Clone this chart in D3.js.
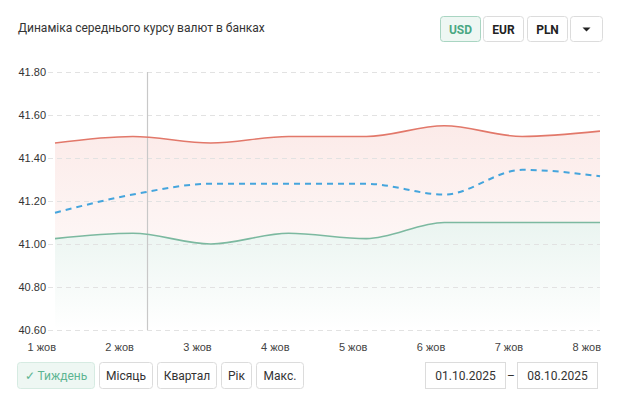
<!DOCTYPE html>
<html><head><meta charset="utf-8">
<script src="https://cdn.jsdelivr.net/npm/d3@7"></script>
<style>
body{margin:0;background:#fff;font-family:Roboto,Arial,sans-serif;}
svg{display:block}
</style></head>
<body><svg id="c" width="620" height="398"></svg>
<script>
const categories = ["1 жов","2 жов","3 жов","4 жов","5 жов","6 жов","7 жов","8 жов"];
const sellValues = [41.47,41.50,41.47,41.50,41.50,41.55,41.50,41.525];
const avgValues  = [41.145,41.23,41.28,41.28,41.28,41.23,41.345,41.315];
const buyValues  = [41.025,41.05,41.00,41.05,41.025,41.10,41.10,41.10];
const yTicks = [40.60,40.80,41.00,41.20,41.40,41.60,41.80];
const currencies = ["USD","EUR","PLN"];
const periods = ["✓ Тиждень","Місяць","Квартал","Рік","Макс."];
const dateFrom = "01.10.2025", dateTo = "08.10.2025";
const title = "Динаміка середнього курсу валют в банках";

const svg = d3.select("#c");
const x = d3.scalePoint().domain(categories).range([55,600]);
const y = d3.scaleLinear().domain([40.60,41.80]).range([330,72]);

const defs = svg.append("defs");
function grad(id,color,op,op2){
  const g = defs.append("linearGradient").attr("id",id).attr("gradientUnits","userSpaceOnUse")
    .attr("x1",0).attr("x2",0).attr("y1",y(41.55)).attr("y2",330);
  g.append("stop").attr("offset","0%").attr("stop-color",color).attr("stop-opacity",op);
  g.append("stop").attr("offset","100%").attr("stop-color",color).attr("stop-opacity",op2);
}
grad("gRed","#e8776a",0.15,0.0);
const gg = defs.append("linearGradient").attr("id","gGreen").attr("gradientUnits","userSpaceOnUse")
  .attr("x1",0).attr("x2",0).attr("y1",y(41.10)).attr("y2",330);
gg.append("stop").attr("offset","0%").attr("stop-color","#5fae8e").attr("stop-opacity",0.13);
gg.append("stop").attr("offset","100%").attr("stop-color","#5fae8e").attr("stop-opacity",0.0);

// title
svg.append("text").attr("x",18).attr("y",32).attr("font-size",12).attr("fill","#333").text(title);

// currency buttons
const cb = [[440,40],[483,40],[527,40]];
currencies.forEach((c,i)=>{
  const g = svg.append("g");
  const active = i===0;
  g.append("rect").attr("x",cb[i][0]+0.5).attr("y",16.5).attr("width",cb[i][1]).attr("height",25).attr("rx",3)
   .attr("fill",active?"#eef7f3":"#fff").attr("stroke",active?"#a9d5c2":"#dcdcdc");
  g.append("text").attr("x",cb[i][0]+cb[i][1]/2+0.5).attr("y",33.5).attr("text-anchor","middle")
   .attr("font-size",12).attr("font-weight","bold").attr("fill",active?"#4aa883":"#222").text(c);
});
svg.append("rect").attr("x",570.5).attr("y",16.5).attr("width",32).attr("height",25).attr("rx",3).attr("fill","#fff").attr("stroke","#dcdcdc");
svg.append("path").attr("d","M582.5,27.5 L590.5,27.5 L586.5,31.5 Z").attr("fill","#222");

const curve = d3.curveMonotoneX;
const xi = (d,i)=>x(categories[i]);
// red band between sell line and buy line, green area below buy line
const band = d3.area().x(xi).y1((d,i)=>y(sellValues[i])).y0((d,i)=>y(buyValues[i])).curve(curve);
const greenArea = d3.area().x(xi).y0(330).y1(d=>y(d)).curve(curve);
const line = d3.line().x(xi).y(d=>y(d)).curve(curve);

svg.append("path").attr("d",band(sellValues)).attr("fill","url(#gRed)");
svg.append("path").attr("d",greenArea(buyValues)).attr("fill","url(#gGreen)");

// grid
const gridG = svg.append("g");
yTicks.forEach(t=>{
  gridG.append("line").attr("x1",48).attr("x2",600).attr("y1",y(t)+0.5).attr("y2",y(t)+0.5)
    .attr("stroke","#e2e2e2").attr("stroke-dasharray","5,4");
  gridG.append("text").attr("x",46).attr("y",y(t)+4).attr("text-anchor","end").attr("font-size",11)
    .attr("font-family","'Liberation Sans',Arial,sans-serif").attr("fill","#333").text(t.toFixed(2));
});

// x labels
categories.forEach(c=>{
  svg.append("text").attr("x",x(c)+1).attr("y",351).attr("text-anchor","end").attr("font-size",11)
    .attr("font-family","'Liberation Sans',Arial,sans-serif").attr("fill","#444").text(c);
});

// crosshair
svg.append("line").attr("x1",147.5).attr("x2",147.5).attr("y1",72).attr("y2",330).attr("stroke","#c8c8c8").attr("stroke-width",1.2);

svg.append("path").attr("d",line(sellValues)).attr("fill","none").attr("stroke","#e2786a").attr("stroke-width",1.6);
svg.append("path").attr("d",line(buyValues)).attr("fill","none").attr("stroke","#7cb9a0").attr("stroke-width",1.6);
svg.append("path").attr("d",line(avgValues)).attr("fill","none").attr("stroke","#45a5dd").attr("stroke-width",2).attr("stroke-dasharray","6,5");

// period buttons
const pb = [[17,77],[99,53],[157,59],[221,30],[256,47]];
periods.forEach((p,i)=>{
  const active = i===0;
  svg.append("rect").attr("x",pb[i][0]+0.5).attr("y",362.5).attr("width",pb[i][1]).attr("height",26).attr("rx",3)
    .attr("fill",active?"#eef7f3":"#fff").attr("stroke",active?"#d6ebe2":"#dcdcdc");
  svg.append("text").attr("x",pb[i][0]+pb[i][1]/2+0.5).attr("y",380).attr("text-anchor","middle").attr("font-size",12)
    .attr("fill",active?"#5db592":"#333").text(p);
});

// dates
[[425,80,dateFrom],[517,80,dateTo]].forEach(d=>{
  svg.append("rect").attr("x",d[0]+0.5).attr("y",362.5).attr("width",d[1]).attr("height",26).attr("fill","#fff").attr("stroke","#dcdcdc");
  svg.append("text").attr("x",d[0]+d[1]/2+0.5).attr("y",380).attr("text-anchor","middle").attr("font-size",12)
    .attr("fill","#333").text(d[2]);
});
svg.append("text").attr("x",511).attr("y",380).attr("text-anchor","middle").attr("font-size",12).attr("fill","#333").text("–");
</script></body></html>
